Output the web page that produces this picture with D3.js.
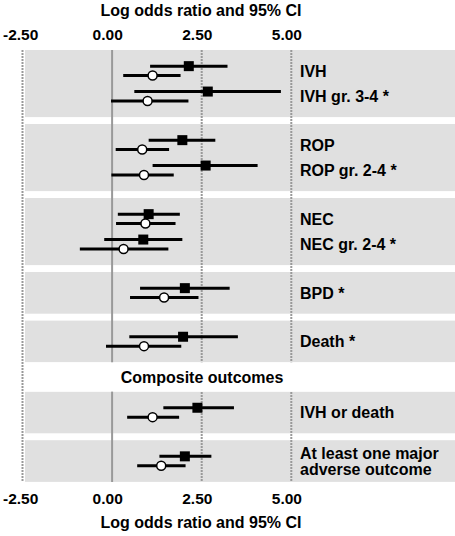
<!DOCTYPE html>
<html><head><meta charset="utf-8">
<script src="https://cdn.jsdelivr.net/npm/d3@7/dist/d3.min.js"></script>
<style>
html,body{margin:0;padding:0;background:#fff;}
svg{display:block;font-family:"Liberation Sans",Arial,sans-serif;}
</style></head>
<body>
<svg id="chart" width="455" height="536"></svg>
<script>
// ---- data ----
const outcomes = ["IVH","IVH gr. 3-4 *","ROP","ROP gr. 2-4 *","NEC","NEC gr. 2-4 *","BPD *","Death *","IVH or death","At least one major|adverse outcome"];
const groupOf  = [0,0,1,1,2,2,3,4,5,6];
const compositeStartGroup = 5;
const compositeTitle = "Composite outcomes";
// filled squares
const sqEst = [2.14, 2.67, 1.96, 2.61, 1.02, 0.87, 2.03, 1.98, 2.38, 2.03];
const sqLo  = [1.06, 0.62, 1.02, 1.13, 0.16, -0.22, 0.78, 0.48, 1.43, 1.32];
const sqHi  = [3.22, 4.71, 2.88, 4.06, 1.89, 1.96, 3.28, 3.51, 3.40, 2.77];
// open circles
const ciEst = [1.13, 0.99, 0.84, 0.89, 0.93, 0.32, 1.45, 0.89, 1.13, 1.37];
const ciLo  = [0.31, -0.03, 0.10, -0.02, 0.11, -0.90, 0.50, -0.17, 0.42, 0.70];
const ciHi  = [1.91, 2.13, 1.59, 1.72, 1.77, 1.57, 2.41, 1.93, 1.87, 2.05];
const tickValues = [-2.5, 0, 2.5, 5];
const tickLabels = ["-2.50","0.00","2.50","5.00"];
const axisTitle = "Log odds ratio and 95% CI";

// ---- layout ----
const W = 455, H = 536;
const svg = d3.select("#chart");
const x = d3.scaleLinear().domain([-2.5, 5]).range([22.5, 291.3]);
const top0 = 50, pad = 8.15, rowH = 25.4, gap = 6.9, headerH = 29.3;
const bandX = 25, labelX = 300;

// compute bands & row centers
const nGroups = d3.max(groupOf) + 1;
const bands = [];
const rowY = new Array(outcomes.length);
let cur = top0, headerY = null;
for (let g = 0; g < nGroups; g++) {
  if (g > 0) {
    if (g === compositeStartGroup) { headerY = [cur, cur + headerH]; cur += headerH; }
    else cur += gap;
  }
  const idx = d3.range(outcomes.length).filter(i => groupOf[i] === g);
  const h = 2 * pad + idx.length * rowH;
  bands.push({y: cur, h});
  idx.forEach((i, k) => rowY[i] = cur + pad + rowH * (k + 0.5));
  cur += h;
}
const plotBottom = cur;

// bands
svg.append("g").selectAll("rect").data(bands).join("rect")
  .attr("x", bandX).attr("y", d => d.y).attr("width", W - bandX).attr("height", d => d.h)
  .attr("fill", "#e0e0e0");

// vertical reference lines
svg.append("g").selectAll("line").data(tickValues).join("line")
  .attr("x1", d => x(d)).attr("x2", d => x(d))
  .attr("y1", top0).attr("y2", plotBottom)
  .attr("stroke", d => d === 0 ? "#999" : "#999")
  .attr("stroke-width", 2)
  .attr("stroke-dasharray", d => d === 0 ? null : "2,1");

// composite header strip
svg.append("rect").attr("x", bandX).attr("y", headerY[0]).attr("width", W - bandX)
  .attr("height", headerY[1] - headerY[0]).attr("fill", "#fff");
svg.append("text").attr("x", 202).attr("y", (headerY[0] + headerY[1]) / 2).attr("dy", "0.36em")
  .attr("text-anchor", "middle").attr("font-size", 16).attr("font-weight", "bold")
  .text(compositeTitle);

const idx = d3.range(outcomes.length);
const offSq = -4.7, offCi = 4.7;
// error bars
const bars = svg.append("g").attr("stroke", "#000").attr("stroke-width", 3);
bars.selectAll(".sq").data(idx).join("line")
  .attr("x1", i => x(sqLo[i])).attr("x2", i => x(sqHi[i]))
  .attr("y1", i => rowY[i] + offSq).attr("y2", i => rowY[i] + offSq);
bars.selectAll(".ci").data(idx).join("line").attr("class","ci")
  .attr("x1", i => x(ciLo[i])).attr("x2", i => x(ciHi[i]))
  .attr("y1", i => rowY[i] + offCi).attr("y2", i => rowY[i] + offCi);
// markers
svg.append("g").selectAll("rect").data(idx).join("rect")
  .attr("x", i => x(sqEst[i]) - 5).attr("y", i => rowY[i] + offSq - 5)
  .attr("width", 10).attr("height", 10).attr("fill", "#000");
svg.append("g").selectAll("circle").data(idx).join("circle")
  .attr("cx", i => x(ciEst[i])).attr("cy", i => rowY[i] + offCi).attr("r", 4.5)
  .attr("fill", "#fff").attr("stroke", "#000").attr("stroke-width", 1.5);

// labels
const lab = svg.append("g").attr("font-size", 16).attr("font-weight", "bold").attr("fill", "#000");
idx.forEach(i => {
  const lines = outcomes[i].split("|");
  const t = lab.append("text").attr("x", labelX).attr("y", rowY[i]);
  lines.forEach((l, k) => {
    t.append("tspan").attr("x", labelX)
      .attr("dy", k === 0 ? `${0.36 - (lines.length - 1) * 0.5}em` : "1em").text(l);
  });
});

// axes
function styleAxis(g) {
  g.select(".domain").remove();
  g.selectAll(".tick line").remove();
  g.selectAll(".tick text").attr("font-size", 15.5).attr("font-weight", "bold")
    .attr("fill", "#000").attr("text-anchor", "start").attr("dx", -20)
    .attr("font-family", '"Liberation Sans",Arial,sans-serif');
}
const fmt = (d) => tickLabels[tickValues.indexOf(d)];
svg.append("g").attr("transform", "translate(0,40)")
  .call(d3.axisTop(x).tickValues(tickValues).tickFormat(fmt).tickSize(0).tickPadding(0))
  .call(styleAxis);
svg.append("g").attr("transform", "translate(0,492)")
  .call(d3.axisBottom(x).tickValues(tickValues).tickFormat(fmt).tickSize(0).tickPadding(0))
  .call(styleAxis);
svg.selectAll(".tick text").attr("dy", null);
svg.selectAll("g[transform='translate(0,492)'] .tick text").attr("y", 11.5);

// axis titles
[16, 528].forEach(y => svg.append("text").attr("x", 201).attr("y", y)
  .attr("text-anchor", "middle").attr("font-size", 16).attr("font-weight", "bold").text(axisTitle));
</script>
</body></html>
